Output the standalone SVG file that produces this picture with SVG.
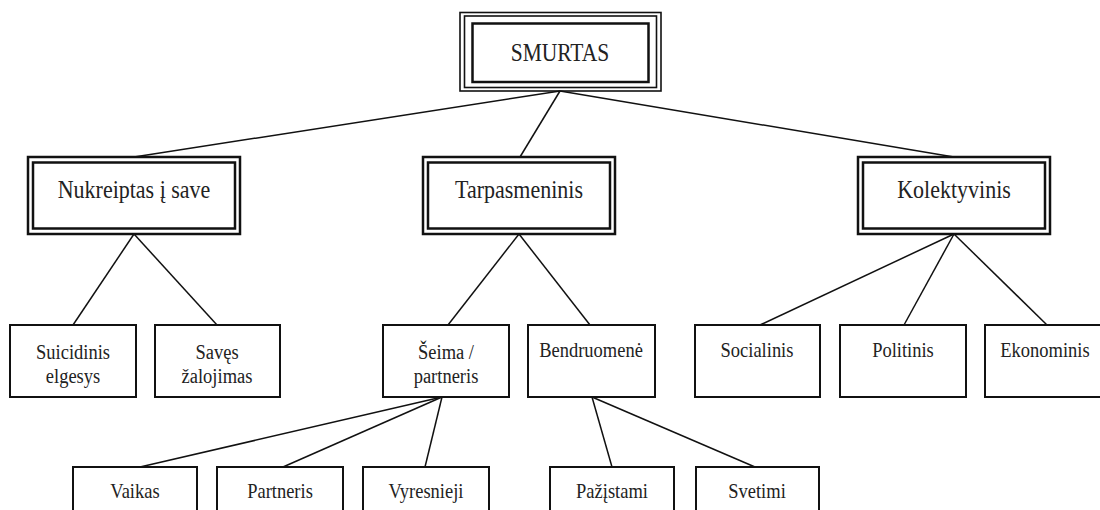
<svg xmlns="http://www.w3.org/2000/svg" width="1100" height="510" viewBox="0 0 1100 510">
<style>
.bg{fill:#ffffff}
.thk{fill:none;stroke:#111;stroke-width:2.5}
.thn{fill:none;stroke:#111;stroke-width:1.6}
.box{fill:#fff;stroke:#111;stroke-width:2}
.lbl{fill:#222;text-anchor:middle;font-family:"Liberation Serif","Times New Roman",serif}
.l1{font-size:21.5px}
.l2{font-size:22px}
.l3{font-size:18.5px}
.edge{fill:none;stroke:#111;stroke-width:1.5}
</style>
<rect class="bg" x="0" y="0" width="1100" height="510"/>
<g id="connectors">
<line class="edge" x1="560" y1="91" x2="134" y2="157"/>
<line class="edge" x1="560" y1="91" x2="520" y2="157"/>
<line class="edge" x1="560" y1="91" x2="954" y2="157"/>
<line class="edge" x1="134" y1="234" x2="73" y2="325"/>
<line class="edge" x1="134" y1="234" x2="217" y2="325"/>
<line class="edge" x1="519" y1="234" x2="448" y2="325"/>
<line class="edge" x1="519" y1="234" x2="590" y2="325"/>
<line class="edge" x1="954" y1="234" x2="760" y2="325"/>
<line class="edge" x1="954" y1="234" x2="904" y2="325"/>
<line class="edge" x1="954" y1="234" x2="1047" y2="325"/>
<line class="edge" x1="442" y1="397" x2="140" y2="467"/>
<line class="edge" x1="442" y1="397" x2="283" y2="467"/>
<line class="edge" x1="442" y1="397" x2="425" y2="467"/>
<line class="edge" x1="592" y1="397" x2="612" y2="467"/>
<line class="edge" x1="592" y1="397" x2="755" y2="467"/>
</g>
<g id="smurtas">
<rect x="460" y="12.5" width="201" height="78.5" fill="#fff" class="thn"/>
<rect x="464.5" y="16" width="192" height="71.5" class="thn"/>
<rect x="472.5" y="23.5" width="176" height="58.5" class="thk"/>
<text class="lbl l1" transform="translate(560,61) scale(1,1.2)">SMURTAS</text>
</g>
<g id="nukreiptas">
<rect x="28" y="157" width="212" height="77" fill="#fff" class="thk"/>
<rect x="33" y="162.5" width="202" height="66" class="thk"/>
<text class="lbl l2" transform="translate(134,198) scale(1,1.15)">Nukreiptas į save</text>
</g>
<g id="tarpasmeninis">
<rect x="423" y="157" width="192" height="77" fill="#fff" class="thk"/>
<rect x="428" y="162.5" width="182" height="66" class="thk"/>
<text class="lbl l2" transform="translate(519,198) scale(1,1.15)">Tarpasmeninis</text>
</g>
<g id="kolektyvinis">
<rect x="858" y="157" width="192" height="77" fill="#fff" class="thk"/>
<rect x="863" y="162.5" width="182" height="66" class="thk"/>
<text class="lbl l2" transform="translate(954,198) scale(1,1.15)">Kolektyvinis</text>
</g>
<g id="suicidinis">
<rect class="box" x="10" y="325" width="126" height="72"/>
<text class="lbl l3" transform="translate(73,359) scale(1,1.08)">Suicidinis</text>
<text class="lbl l3" transform="translate(73,383) scale(1,1.08)">elgesys</text>
</g>
<g id="saves">
<rect class="box" x="155" y="325" width="125" height="72"/>
<text class="lbl l3" transform="translate(217,359) scale(1,1.08)">Savęs</text>
<text class="lbl l3" transform="translate(217,383) scale(1,1.08)">žalojimas</text>
</g>
<g id="seima">
<rect class="box" x="383" y="325" width="126" height="72"/>
<text class="lbl l3" transform="translate(446,359) scale(1,1.08)">Šeima /</text>
<text class="lbl l3" transform="translate(446,383) scale(1,1.08)">partneris</text>
</g>
<g id="bendruomene">
<rect class="box" x="528" y="325" width="127" height="72"/>
<text class="lbl l3" transform="translate(591,357) scale(1,1.15)">Bendruomenė</text>
</g>
<g id="socialinis">
<rect class="box" x="695" y="325" width="125" height="72"/>
<text class="lbl l3" transform="translate(757,357) scale(1,1.15)">Socialinis</text>
</g>
<g id="politinis">
<rect class="box" x="840" y="325" width="126" height="72"/>
<text class="lbl l3" transform="translate(903,357) scale(1,1.15)">Politinis</text>
</g>
<g id="ekonominis">
<rect class="box" x="985" y="325" width="126" height="72"/>
<text class="lbl l3" transform="translate(1045,357) scale(1,1.15)">Ekonominis</text>
</g>
<g id="vaikas">
<rect class="box" x="73" y="467" width="124" height="72"/>
<text class="lbl l3" transform="translate(135,498) scale(1,1.15)">Vaikas</text>
</g>
<g id="partneris">
<rect class="box" x="217" y="467" width="126" height="72"/>
<text class="lbl l3" transform="translate(280,498) scale(1,1.15)">Partneris</text>
</g>
<g id="vyresnieji">
<rect class="box" x="363" y="467" width="126" height="72"/>
<text class="lbl l3" transform="translate(426,498) scale(1,1.15)">Vyresnieji</text>
</g>
<g id="pazistami">
<rect class="box" x="550" y="467" width="124" height="72"/>
<text class="lbl l3" transform="translate(612,498) scale(1,1.15)">Pažįstami</text>
</g>
<g id="svetimi">
<rect class="box" x="696" y="467" width="123" height="72"/>
<text class="lbl l3" transform="translate(757,498) scale(1,1.15)">Svetimi</text>
</g>
</svg>
